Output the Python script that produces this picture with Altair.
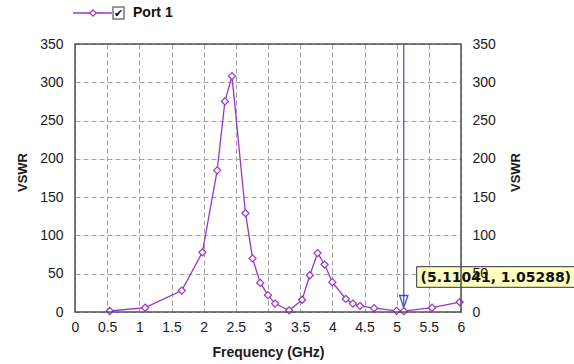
import altair as alt
import pandas as pd

# Simulated VSWR sweep of port 1
freq = [0.54, 1.09, 1.66, 1.98, 2.21, 2.33, 2.44, 2.65, 2.76, 2.88, 3.0, 3.11,
        3.33, 3.53, 3.65, 3.77, 3.88, 4.0, 4.21, 4.32, 4.43, 4.65, 5.0,
        5.11041, 5.55, 5.98]
vswr = [1.3, 5.6, 28, 78, 185, 275, 308, 129, 70, 38, 22, 11,
        2, 16, 48, 77, 62, 39, 17, 11, 8, 5, 1.5,
        1.05288, 5.6, 13]

x_ticks = [0, 0.5, 1, 1.5, 2, 2.5, 3, 3.5, 4, 4.5, 5, 5.5, 6]
y_ticks = [0, 50, 100, 150, 200, 250, 300, 350]

series_name = "Port 1"
cursor_freq = 5.11041
cursor_vswr = 1.05288
cursor_text = f"({cursor_freq}, {cursor_vswr})"

df = pd.DataFrame({"freq": freq, "vswr": vswr})
cursor_df = pd.DataFrame({"freq": [cursor_freq], "vswr": [cursor_vswr]})
one = pd.DataFrame({"k": [0]})

PURPLE = "#9a34cc"
BLUE = "#3a52c8"
FONT = "Liberation Sans"
GRID = "#a0a0a0"
W, H = 386, 268

x_enc = alt.X(
    "freq:Q",
    scale=alt.Scale(domain=[0, 6], nice=False, zero=False),
    axis=alt.Axis(
        values=x_ticks, format="~g", title="Frequency (GHz)",
        grid=True, gridDash=[5, 3], gridColor=GRID, gridWidth=1,
        domain=False, ticks=False, labelPadding=8, labelFlush=False,
        labelOverlap=False,
        labelFont=FONT, labelFontSize=14, labelColor="#1a1a1a",
        titleFont=FONT, titleFontSize=14, titleFontWeight="bold",
        titleColor="#1a1a1a", titleX=W / 2, titleY=40,
        titleBaseline="middle", titleAlign="center",
    ),
)

y_scale = alt.Scale(domain=[0, 350], nice=False)


def y_axis(orient, pad, title_x, grid):
    return alt.Axis(
        values=y_ticks, orient=orient, title="VSWR",
        grid=grid, gridDash=[5, 3], gridColor=GRID, gridWidth=1,
        domain=False, ticks=False, labelPadding=pad, labelFlush=False,
        labelOverlap=False, labelBaseline="middle",
        labelFont=FONT, labelFontSize=14, labelColor="#1a1a1a",
        titleFont=FONT, titleFontSize=13, titleFontWeight="bold",
        titleColor="#1a1a1a", titleAngle=270, titleX=title_x, titleY=128,
        titleAlign="center", titleBaseline="middle",
        zindex=1 if orient == "right" else 0,
    )


line = alt.Chart(df).mark_line(color=PURPLE, strokeWidth=1.3).encode(
    x=x_enc,
    y=alt.Y("vswr:Q", scale=y_scale, axis=y_axis("left", 12, -53, True)),
)

points = alt.Chart(df).mark_point(
    shape="diamond", fill="white", stroke=PURPLE, fillOpacity=1,
    opacity=1, size=50, strokeWidth=1.2,
).encode(
    x=x_enc,
    y=alt.Y("vswr:Q", scale=y_scale, axis=y_axis("right", 11, 54, False)),
)

# Marker cursor
cursor_rule = alt.Chart(cursor_df).mark_rule(color=BLUE, strokeWidth=1.2).encode(
    x=x_enc, y=alt.value(0), y2=alt.value(262),
)
cursor_arrow = alt.Chart(cursor_df).mark_point(
    shape="M-0.7,-1L0.7,-1L0,1Z", filled=False, stroke=BLUE,
    strokeWidth=1.3, size=144, opacity=1,
).encode(x=x_enc, y=alt.value(257.5))

readout_box = alt.Chart(one).mark_rect(
    fill="#ffffc0", stroke="#333333", strokeWidth=1,
).encode(
    x=alt.value(341.7), x2=alt.value(505),
    y=alt.value(222.7), y2=alt.value(243.3),
)
readout_text = alt.Chart(one).mark_text(
    text=cursor_text, align="left", baseline="middle",
    font="DejaVu Sans", fontWeight="bold", fontSize=14, color="#111111",
).encode(x=alt.value(345.5), y=alt.value(233.5))

# Plot frame drawn above the data
frame = alt.Chart(one).mark_rect(
    fill="transparent", stroke="#505050", strokeWidth=1.5,
).encode(x=alt.value(0), x2=alt.value(W), y=alt.value(0), y2=alt.value(H))

# Series legend with check box
leg_line = alt.Chart(one).mark_rule(color=PURPLE, strokeWidth=1.3).encode(
    x=alt.value(-2), x2=alt.value(37), y=alt.value(-31),
)
leg_mark = alt.Chart(one).mark_point(
    shape="diamond", fill="white", stroke=PURPLE, fillOpacity=1,
    opacity=1, size=40, strokeWidth=1.2,
).encode(x=alt.value(18), y=alt.value(-31))
leg_box = alt.Chart(one).mark_rect(
    fill="white", stroke="#7a7a7a", strokeWidth=1.5,
).encode(x=alt.value(38), x2=alt.value(49), y=alt.value(-37), y2=alt.value(-25))
leg_check = alt.Chart(one).mark_text(
    text="✔", align="center", baseline="middle",
    font="DejaVu Sans", fontSize=11, color="#111111",
).encode(x=alt.value(43.5), y=alt.value(-30.5))
leg_text = alt.Chart(one).mark_text(
    text=series_name, align="left", baseline="middle",
    font=FONT, fontWeight="bold", fontSize=14, color="#111111",
).encode(x=alt.value(58), y=alt.value(-31))

chart = alt.layer(
    line, points, cursor_rule, cursor_arrow, readout_box, readout_text,
    frame, leg_line, leg_mark, leg_box, leg_check, leg_text,
).resolve_axis(y="independent").properties(
    width=W, height=H,
    autosize=alt.AutoSizeParams(type="none"),
    padding={"left": 75, "top": 44, "right": 113, "bottom": 52},
    background="white",
).configure_view(stroke=None)

chart.save("out.html", embed_options={"renderer": "svg", "actions": False})
